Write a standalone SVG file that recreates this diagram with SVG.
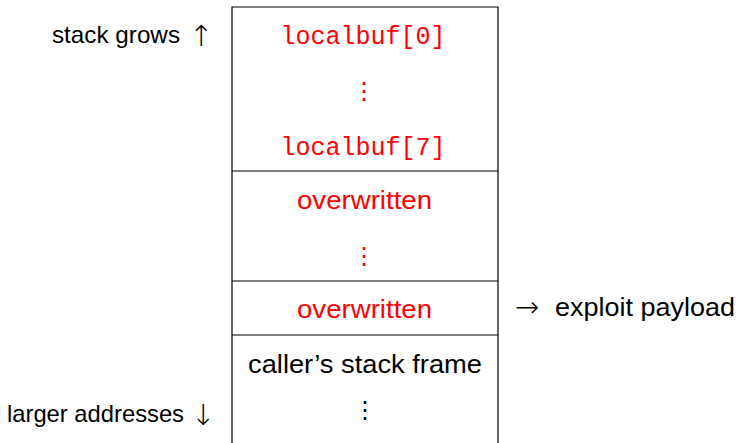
<svg xmlns="http://www.w3.org/2000/svg" width="738" height="443" viewBox="0 0 738 443">
  <style>
    .cell { fill: none; stroke: #000; stroke-width: 1.2; }
    .sans { font-family: "Liberation Sans", "DejaVu Sans", sans-serif; font-size: 26px; fill: #000; }
    .side { font-size: 24px; }
    .mono { font-family: "Liberation Mono", "DejaVu Sans Mono", monospace; font-size: 25px; fill: #ff0000; }
    .arrow { font-family: "DejaVu Sans", sans-serif; font-weight: 200; font-size: 29px; fill: #000; }
    .red { fill: #ff0000; }
    .mid { text-anchor: middle; }
    .vdots { font-family: "DejaVu Sans", sans-serif; font-size: 24px; text-anchor: middle; }
  </style>
  <rect width="738" height="443" fill="#fff"/>

  <!-- stack frame cells, top to bottom -->
  <g id="buffer">
    <path class="cell" d="M232 450 V7 H498 V450"/>
    <text class="mono mid" x="363" y="44">localbuf[0]</text>
    <text class="vdots red" x="364" y="99">⋮</text>
    <text class="mono mid" x="363" y="155">localbuf[7]</text>
  </g>
  <g id="overwritten-area">
    <line class="cell" x1="232" y1="171" x2="498" y2="171"/>
    <text class="sans red" x="297" y="209" textLength="135" lengthAdjust="spacingAndGlyphs">overwritten</text>
    <text class="vdots red" x="364" y="264">⋮</text>
  </g>
  <g id="return-slot">
    <line class="cell" x1="232" y1="281" x2="498" y2="281"/>
    <text class="sans red" x="297" y="318" textLength="135" lengthAdjust="spacingAndGlyphs">overwritten</text>
  </g>
  <g id="caller-frame">
    <line class="cell" x1="232" y1="335" x2="498" y2="335"/>
    <text class="sans" x="248" y="373" textLength="234" lengthAdjust="spacingAndGlyphs">caller’s stack frame</text>
    <text class="vdots" x="365" y="418">⋮</text>
  </g>

  <!-- side annotations -->
  <g id="labels">
    <text class="sans side" x="52" y="43" textLength="128" lengthAdjust="spacingAndGlyphs">stack grows</text>
    <text class="arrow" x="189" y="46">↑</text>
    <text class="sans side" x="7" y="422" textLength="177" lengthAdjust="spacingAndGlyphs">larger addresses</text>
    <text class="arrow" x="191" y="425">↓</text>
    <text class="arrow" x="515" y="317">→</text>
    <text class="sans" x="555" y="316" textLength="180" lengthAdjust="spacingAndGlyphs">exploit payload</text>
  </g>
</svg>
